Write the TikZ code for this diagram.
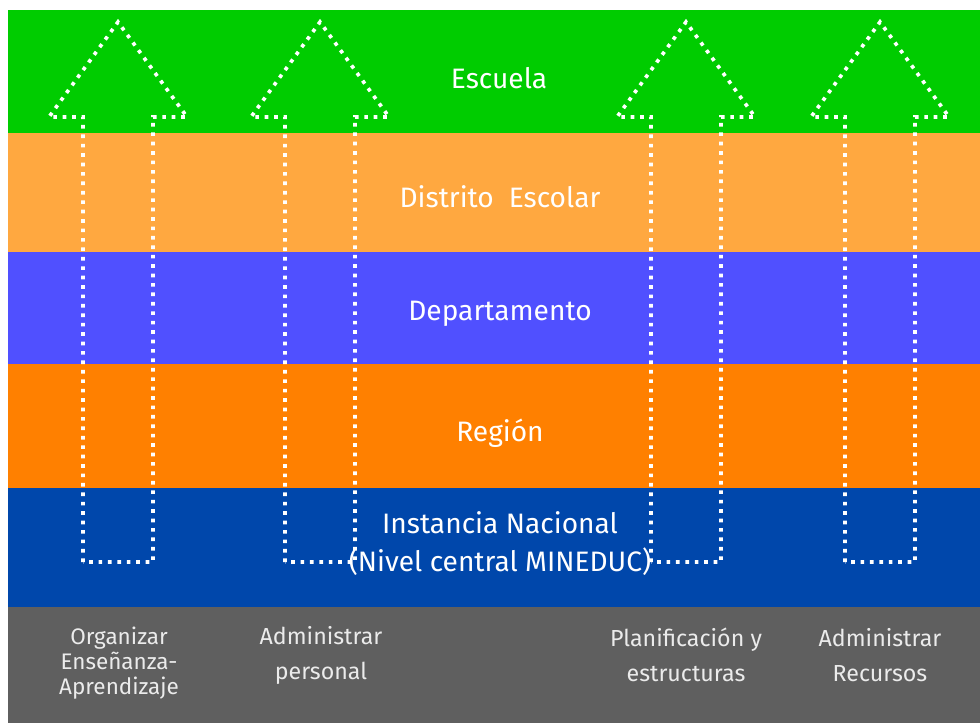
\documentclass[tikz,border=0pt]{standalone}
\usepackage{fontspec}
\setmainfont{Fira Sans}
\definecolor{cescuela}{RGB}{0,204,0}
\definecolor{cdistrito}{RGB}{255,168,64}
\definecolor{cdepto}{RGB}{80,80,255}
\definecolor{cregion}{RGB}{255,128,0}
\definecolor{cnacional}{RGB}{0,71,171}
\definecolor{cbase}{RGB}{95,95,95}
\tikzset{
  lvl/.style={text=white,font=\fontsize{20}{23}\selectfont,align=center},
  area/.style={text={rgb,255:red,235;green,235;blue,235},font=\fontsize{16.5}{25}\selectfont,align=center},
  dotline/.style={white,line width=2.6pt,dash pattern=on 2.6pt off 4.1pt}
}

\begin{document}
\begin{tikzpicture}[x=0.025cm,y=-0.025cm]
\useasboundingbox (0,0) rectangle (980,723);
\fill[cescuela] (8,10) rectangle (980,133);
\fill[cdistrito] (8,133) rectangle (980,252);
\fill[cdepto] (8,252) rectangle (980,364);
\fill[cregion] (8,364) rectangle (980,488);
\fill[cnacional] (8,488) rectangle (980,607);
\fill[cbase] (8,607) rectangle (980,723);

\foreach \x in {118,320,686,880}
  \draw[dotline] (\x-35,562) -- (\x-35,117) -- (\x-69,117) -- (\x,22)
    -- (\x+69,117) -- (\x+35,117) -- (\x+35,562) -- cycle;

\node[lvl] (escuela) at (499,78) {Escuela};
\node[lvl] (distrito) at (500,197) {Distrito\ \ Escolar};
\node[lvl] (depto) at (500,314) {Departamento};
\node[lvl] (region) at (500,433) {Región};
\node[lvl] (nacional) at (500,523) {Instancia Nacional};
\node[lvl] (mineduc) at (500,562) {(Nivel central MINEDUC)};

\node[area,font=\fontsize{16}{18}\selectfont] (ensenanza) at (119,663) {Organizar\\Enseñanza-\\Aprendizaje};
\node[area] (personal) at (321,655) {Administrar\\personal};
\node[area] (planif) at (686,655) {Planificación y\\estructuras};
\node[area] (recursos) at (880,655) {Administrar\\Recursos};
\end{tikzpicture}
\end{document}
